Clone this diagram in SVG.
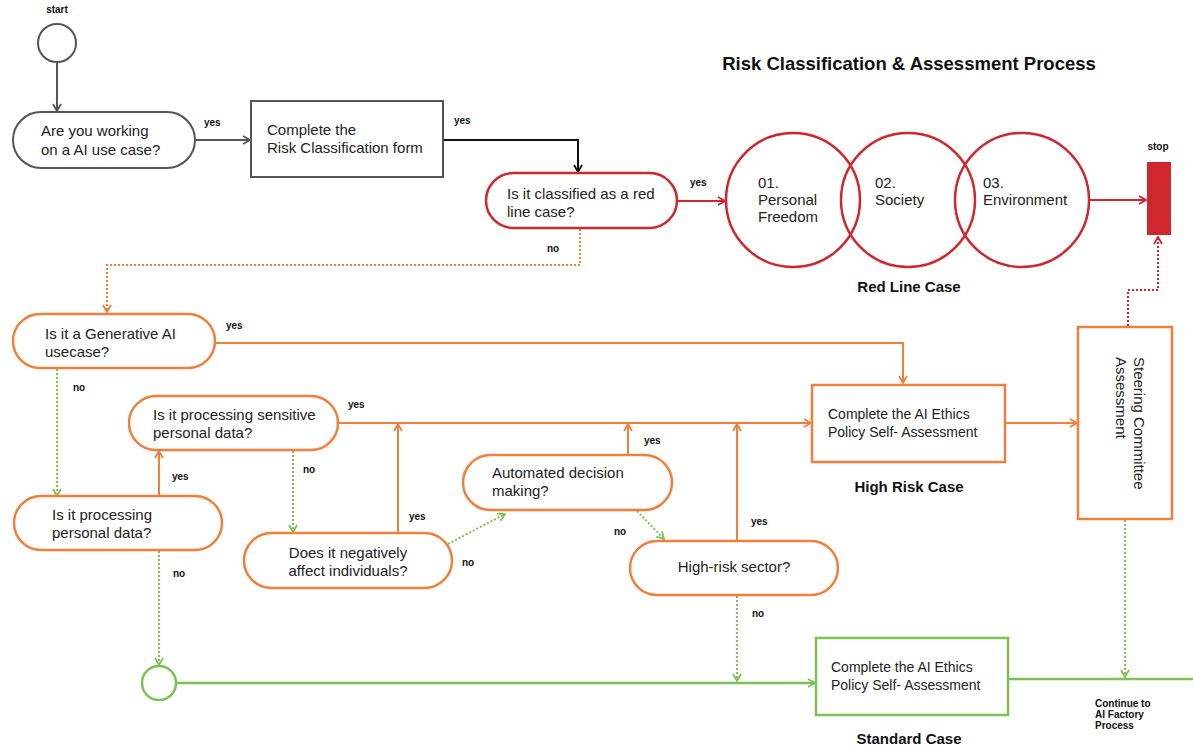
<svg xmlns="http://www.w3.org/2000/svg" width="1193" height="746" viewBox="0 0 1193 746">
  <style>
    .t { font-family: "Liberation Sans", Arial, sans-serif; font-size: 15px; fill: #222; }
    .s { font-family: "Liberation Sans", Arial, sans-serif; font-size: 14px; fill: #222; }
    .lbl { font-family: "Liberation Sans", Arial, sans-serif; font-size: 10px; font-weight: bold; fill: #111; }
    .hd { font-family: "Liberation Sans", Arial, sans-serif; font-size: 15px; font-weight: bold; fill: #111; text-anchor: middle; }
    .title { font-family: "Liberation Sans", Arial, sans-serif; font-size: 18.5px; font-weight: bold; fill: #111; text-anchor: middle; }
    .gray { fill: #fff; stroke: #555; stroke-width: 2; }
    .red { fill: none; stroke: #d0262d; stroke-width: 2.5; }
    .org { fill: #fff; stroke: #f07f3c; stroke-width: 2.5; }
    .grn { fill: #fff; stroke: #7cc153; stroke-width: 2.5; }
    .c-gray { fill: none; stroke: #555; stroke-width: 2; }
    .c-blk { fill: none; stroke: #111; stroke-width: 2; }
    .c-red { fill: none; stroke: #d0262d; stroke-width: 2; }
    .c-org { fill: none; stroke: #f07f3c; stroke-width: 2; }
    .c-grn { fill: none; stroke: #7cc153; stroke-width: 2.5; }
    .dot { stroke-dasharray: 2 2; stroke-width: 2; }
  </style>
  <defs>
    <marker id="aGray" viewBox="0 0 10 10" refX="9" refY="5" markerWidth="10" markerHeight="10" markerUnits="userSpaceOnUse" orient="auto">
      <path d="M2,1 L9,5 L2,9" fill="none" stroke="#555" stroke-width="1.8"/>
    </marker>
    <marker id="aBlk" viewBox="0 0 10 10" refX="9" refY="5" markerWidth="10" markerHeight="10" markerUnits="userSpaceOnUse" orient="auto">
      <path d="M2,1 L9,5 L2,9" fill="none" stroke="#111" stroke-width="1.8"/>
    </marker>
    <marker id="aRed" viewBox="0 0 10 10" refX="9" refY="5" markerWidth="10" markerHeight="10" markerUnits="userSpaceOnUse" orient="auto">
      <path d="M2,1 L9,5 L2,9" fill="none" stroke="#d0262d" stroke-width="1.8"/>
    </marker>
    <marker id="aOrg" viewBox="0 0 10 10" refX="9" refY="5" markerWidth="10" markerHeight="10" markerUnits="userSpaceOnUse" orient="auto">
      <path d="M2,1 L9,5 L2,9" fill="none" stroke="#f07f3c" stroke-width="1.8"/>
    </marker>
    <marker id="aGrn" viewBox="0 0 10 10" refX="9" refY="5" markerWidth="10" markerHeight="10" markerUnits="userSpaceOnUse" orient="auto">
      <path d="M2,1 L9,5 L2,9" fill="none" stroke="#7cc153" stroke-width="1.8"/>
    </marker>
  </defs>

  <rect width="1193" height="746" fill="#fff"/>

  <text class="title" x="909" y="70">Risk Classification &amp; Assessment Process</text>

  <!-- connectors -->
  <g id="connectors">
    <path class="c-gray" d="M57,62 V111" marker-end="url(#aGray)"/>
    <path class="c-gray" d="M195,140 H250" marker-end="url(#aGray)"/>
    <path class="c-blk" d="M443,140 H578 V172" marker-end="url(#aBlk)"/>
    <path class="c-red" d="M677,201 H725" marker-end="url(#aRed)"/>
    <path class="c-red" d="M1090,200 H1146" marker-end="url(#aRed)"/>
    <path class="c-red dot" d="M1128,326 V290 H1158 V237" marker-end="url(#aRed)"/>
    <path class="c-org dot" d="M580,229 V265 H107 V312" marker-end="url(#aOrg)"/>
    <path class="c-org" d="M215,343 H903 V383" marker-end="url(#aOrg)"/>
    <path class="c-grn dot" d="M57,369 V496" marker-end="url(#aGrn)"/>
    <path class="c-org" d="M338,423 H811" marker-end="url(#aOrg)"/>
    <path class="c-org" d="M159,496 V451" marker-end="url(#aOrg)"/>
    <path class="c-grn dot" d="M159,551 V665" marker-end="url(#aGrn)"/>
    <path class="c-grn dot" d="M293,451 V532" marker-end="url(#aGrn)"/>
    <path class="c-org" d="M398,533 V424" marker-end="url(#aOrg)"/>
    <path class="c-grn dot" d="M448,544 L505,514" marker-end="url(#aGrn)"/>
    <path class="c-org" d="M628,455 V424" marker-end="url(#aOrg)"/>
    <path class="c-grn dot" d="M637,511 L664,539" marker-end="url(#aGrn)"/>
    <path class="c-org" d="M737,541 V424" marker-end="url(#aOrg)"/>
    <path class="c-grn dot" d="M737,596 V681" marker-end="url(#aGrn)"/>
    <path class="c-org" d="M1005,423 H1077" marker-end="url(#aOrg)"/>
    <path class="c-grn dot" d="M1125,520 V677" marker-end="url(#aGrn)"/>
    <path class="c-grn" d="M177,683 H815" marker-end="url(#aGrn)"/>
    <path class="c-grn" d="M1008,679 H1193"/>

    <text class="lbl" x="204" y="126">yes</text>
    <text class="lbl" x="454" y="124">yes</text>
    <text class="lbl" x="690" y="186">yes</text>
    <text class="lbl" x="547" y="252">no</text>
    <text class="lbl" x="226" y="329">yes</text>
    <text class="lbl" x="73" y="391">no</text>
    <text class="lbl" x="348" y="408">yes</text>
    <text class="lbl" x="172" y="480">yes</text>
    <text class="lbl" x="173" y="577">no</text>
    <text class="lbl" x="303" y="473">no</text>
    <text class="lbl" x="409" y="520">yes</text>
    <text class="lbl" x="462" y="566">no</text>
    <text class="lbl" x="644" y="444">yes</text>
    <text class="lbl" x="614" y="535">no</text>
    <text class="lbl" x="751" y="525">yes</text>
    <text class="lbl" x="752" y="617">no</text>
  </g>

  <g id="start">
    <text class="lbl" x="57" y="13" text-anchor="middle">start</text>
    <circle class="gray" cx="57" cy="43" r="19"/>
  </g>

  <g id="q-ai-use-case">
    <rect class="gray" x="13" y="112" width="182" height="56" rx="28"/>
    <text class="t" x="41" y="136">Are you working</text>
    <text class="t" x="41" y="155">on a AI use case?</text>
  </g>

  <g id="risk-form">
    <rect class="gray" x="251" y="101" width="192" height="76"/>
    <text class="t" x="267" y="135">Complete the</text>
    <text class="t" x="267" y="153">Risk Classification form</text>
  </g>

  <g id="q-red-line">
    <rect class="red" x="486" y="173" width="191" height="55" rx="27.5" style="fill:#fff"/>
    <text class="t" x="507" y="199">Is it classified as a red</text>
    <text class="t" x="507" y="217">line case?</text>
  </g>

  <g id="red-line-case">
    <circle class="red" cx="793" cy="200" r="67"/>
    <circle class="red" cx="908" cy="200" r="67"/>
    <circle class="red" cx="1022" cy="200" r="67"/>
    <text class="t" x="758" y="188">01.</text>
    <text class="t" x="758" y="205">Personal</text>
    <text class="t" x="758" y="222">Freedom</text>
    <text class="t" x="875" y="188">02.</text>
    <text class="t" x="875" y="205">Society</text>
    <text class="t" x="983" y="188">03.</text>
    <text class="t" x="983" y="205">Environment</text>
    <text class="hd" x="909" y="292">Red Line Case</text>
  </g>

  <g id="stop">
    <text class="lbl" x="1158" y="150" text-anchor="middle">stop</text>
    <rect x="1147" y="162" width="24" height="73" fill="#d0262d"/>
  </g>

  <g id="q-generative">
    <rect class="org" x="13" y="314" width="202" height="54" rx="27"/>
    <text class="t" x="45" y="339">Is it a Generative AI</text>
    <text class="t" x="45" y="357">usecase?</text>
  </g>

  <g id="q-sensitive">
    <rect class="org" x="129" y="396" width="209" height="54" rx="27"/>
    <text class="t" x="153" y="420">Is it processing sensitive</text>
    <text class="t" x="153" y="438">personal data?</text>
  </g>

  <g id="q-personal">
    <rect class="org" x="14" y="496" width="208" height="54" rx="27"/>
    <text class="t" x="52" y="520">Is it processing</text>
    <text class="t" x="52" y="538">personal data?</text>
  </g>

  <g id="q-negative">
    <rect class="org" x="244" y="533" width="208" height="55" rx="27.5"/>
    <text class="t" x="348" y="558" text-anchor="middle">Does it negatively</text>
    <text class="t" x="348" y="576" text-anchor="middle">affect individuals?</text>
  </g>

  <g id="q-automated">
    <rect class="org" x="463" y="455" width="209" height="55" rx="27.5"/>
    <text class="t" x="492" y="478">Automated decision</text>
    <text class="t" x="492" y="496">making?</text>
  </g>

  <g id="q-sector">
    <rect class="org" x="630" y="541" width="208" height="54" rx="27"/>
    <text class="t" x="734" y="572" text-anchor="middle">High-risk sector?</text>
  </g>

  <g id="high-risk">
    <rect class="org" x="812" y="385" width="193" height="77"/>
    <text class="s" x="828" y="419">Complete the AI Ethics</text>
    <text class="s" x="828" y="437">Policy Self- Assessment</text>
    <text class="hd" x="909" y="492">High Risk Case</text>
  </g>

  <g id="steering">
    <rect class="org" x="1078" y="327" width="94" height="192"/>
    <g transform="translate(1134,357) rotate(90)">
      <text class="t" x="0" y="0">Steering Committee</text>
      <text class="t" x="0" y="18">Assessment</text>
    </g>
  </g>

  <g id="merge">
    <circle class="grn" cx="159" cy="683" r="17"/>
  </g>

  <g id="standard">
    <rect class="grn" x="816" y="638" width="192" height="77"/>
    <text class="s" x="831" y="672">Complete the AI Ethics</text>
    <text class="s" x="831" y="690">Policy Self- Assessment</text>
    <text class="hd" x="909" y="744">Standard Case</text>
  </g>

  <g id="continue">
    <text class="lbl" x="1095" y="707">Continue to</text>
    <text class="lbl" x="1095" y="718">AI Factory</text>
    <text class="lbl" x="1095" y="729">Process</text>
  </g>
</svg>
